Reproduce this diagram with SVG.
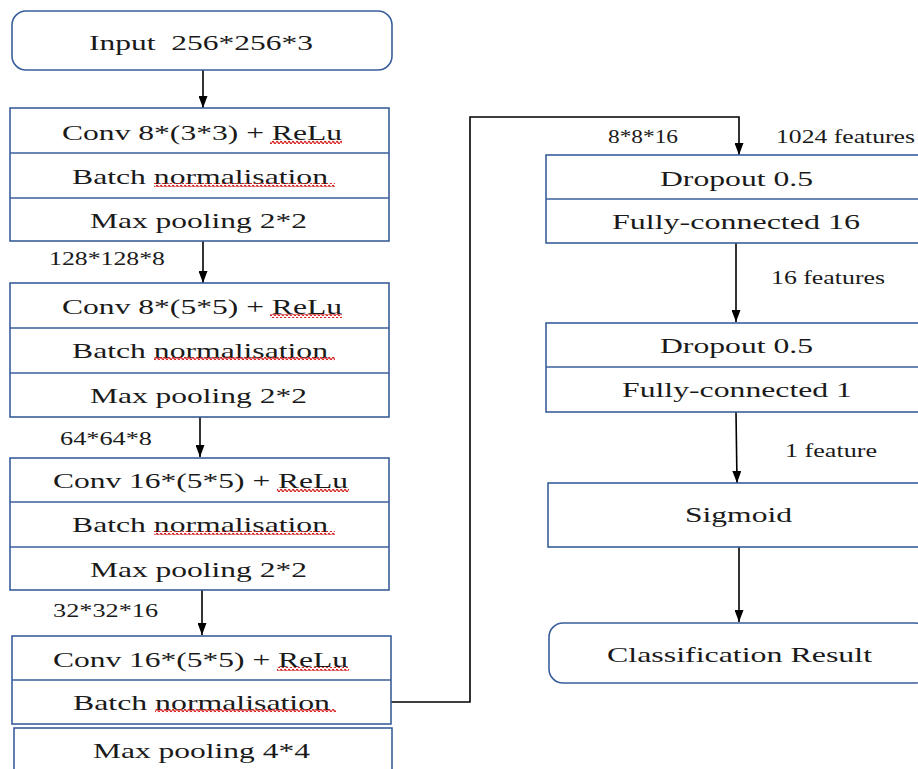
<svg xmlns="http://www.w3.org/2000/svg" width="918" height="769" viewBox="0 0 918 769">
<style>
.box{fill:#fff;stroke:#3a5e9c;stroke-width:1.6}
.div{stroke:#3a5e9c;stroke-width:1.4}
.t{font-family:'Liberation Serif','DejaVu Serif','Times New Roman',serif;font-size:22px;fill:#1a1a1a;white-space:pre}
.l{font-family:'Liberation Serif','DejaVu Serif','Times New Roman',serif;font-size:19px;fill:#1a1a1a}
.c{fill:none;stroke:#000;stroke-width:1.6}
.sq{fill:url(#wave)}
</style>
<defs>
<pattern id="wave" width="4" height="4" patternUnits="userSpaceOnUse">
<path d="M0 2.5 Q1 0.5 2 2.5 T4 2.5" fill="none" stroke="#d42020" stroke-width="1.3"/>
</pattern>
<marker id="ah" viewBox="0 0 12 9" refX="12" refY="4.5" markerWidth="12" markerHeight="9" markerUnits="userSpaceOnUse" orient="auto">
<path d="M0 0 L12 4.5 L0 9 Z" fill="#000"/>
</marker>
</defs>

<g id="connectors">
<line class="c" x1="203" y1="70" x2="203" y2="108" marker-end="url(#ah)"/>
<line class="c" x1="203" y1="241" x2="203" y2="283" marker-end="url(#ah)"/>
<line class="c" x1="200" y1="417" x2="200" y2="457" marker-end="url(#ah)"/>
<line class="c" x1="202" y1="590" x2="202" y2="635" marker-end="url(#ah)"/>
<polyline class="c" points="391,702 470,702 470,117 739,117 739,155" marker-end="url(#ah)"/>
<line class="c" x1="736" y1="243" x2="736" y2="322" marker-end="url(#ah)"/>
<line class="c" x1="736" y1="412" x2="737" y2="483" marker-end="url(#ah)"/>
<line class="c" x1="739" y1="547" x2="739" y2="622" marker-end="url(#ah)"/>
<text class="l" x="49" y="265" textLength="116" lengthAdjust="spacingAndGlyphs">128*128*8</text>
<text class="l" x="60" y="445" textLength="92" lengthAdjust="spacingAndGlyphs">64*64*8</text>
<text class="l" x="53" y="617" textLength="105" lengthAdjust="spacingAndGlyphs">32*32*16</text>
<text class="l" x="608" y="143" textLength="70" lengthAdjust="spacingAndGlyphs">8*8*16</text>
<text class="l" x="776" y="143" textLength="139" lengthAdjust="spacingAndGlyphs">1024 features</text>
<text class="l" x="771" y="284" textLength="114" lengthAdjust="spacingAndGlyphs">16 features</text>
<text class="l" x="785" y="457" textLength="92" lengthAdjust="spacingAndGlyphs">1 feature</text>
</g>

<g id="input">
<rect class="box" x="12" y="11" width="380" height="59" rx="14"/>
<text class="t" x="89" y="50" textLength="224" lengthAdjust="spacingAndGlyphs">Input  256*256*3</text>
</g>

<g id="block1">
<rect class="box" x="10" y="108" width="379" height="133"/>
<line class="div" x1="10" y1="153" x2="389" y2="153"/>
<line class="div" x1="10" y1="198" x2="389" y2="198"/>
<text class="t" x="62" y="140" textLength="280" lengthAdjust="spacingAndGlyphs">Conv 8*(3*3) + ReLu</text>
<rect class="sq" x="270" y="140" width="72" height="4"/>
<text class="t" x="72" y="184" textLength="256" lengthAdjust="spacingAndGlyphs">Batch normalisation</text>
<rect class="sq" x="154" y="183" width="181" height="4"/>
<text class="t" x="90" y="228" textLength="217" lengthAdjust="spacingAndGlyphs">Max pooling 2*2</text>
</g>

<g id="block2">
<rect class="box" x="10" y="283" width="379" height="134"/>
<line class="div" x1="10" y1="328" x2="389" y2="328"/>
<line class="div" x1="10" y1="373" x2="389" y2="373"/>
<text class="t" x="62" y="314" textLength="280" lengthAdjust="spacingAndGlyphs">Conv 8*(5*5) + ReLu</text>
<rect class="sq" x="270" y="314" width="72" height="4"/>
<text class="t" x="72" y="358" textLength="256" lengthAdjust="spacingAndGlyphs">Batch normalisation</text>
<rect class="sq" x="154" y="357" width="181" height="4"/>
<text class="t" x="90" y="403" textLength="217" lengthAdjust="spacingAndGlyphs">Max pooling 2*2</text>
</g>

<g id="block3">
<rect class="box" x="10" y="458" width="379" height="132"/>
<line class="div" x1="10" y1="502" x2="389" y2="502"/>
<line class="div" x1="10" y1="547" x2="389" y2="547"/>
<text class="t" x="53" y="488" textLength="295" lengthAdjust="spacingAndGlyphs">Conv 16*(5*5) + ReLu</text>
<rect class="sq" x="277" y="488" width="72" height="4"/>
<text class="t" x="72" y="532" textLength="256" lengthAdjust="spacingAndGlyphs">Batch normalisation</text>
<rect class="sq" x="154" y="531" width="181" height="4"/>
<text class="t" x="90" y="577" textLength="217" lengthAdjust="spacingAndGlyphs">Max pooling 2*2</text>
</g>

<g id="block4">
<rect class="box" x="12" y="636" width="379" height="88"/>
<line class="div" x1="12" y1="680" x2="391" y2="680"/>
<text class="t" x="53" y="667" textLength="295" lengthAdjust="spacingAndGlyphs">Conv 16*(5*5) + ReLu</text>
<rect class="sq" x="277" y="667" width="72" height="4"/>
<text class="t" x="73" y="710" textLength="257" lengthAdjust="spacingAndGlyphs">Batch normalisation</text>
<rect class="sq" x="155" y="709" width="181" height="4"/>
</g>

<g id="block5">
<rect class="box" x="14" y="728" width="378" height="50"/>
<text class="t" x="93" y="758" textLength="217" lengthAdjust="spacingAndGlyphs">Max pooling 4*4</text>
</g>

<g id="fc16">
<rect class="box" x="546" y="155" width="380" height="88"/>
<line class="div" x1="546" y1="199" x2="926" y2="199"/>
<text class="t" x="660" y="186" textLength="153" lengthAdjust="spacingAndGlyphs">Dropout 0.5</text>
<text class="t" x="612" y="229" textLength="248" lengthAdjust="spacingAndGlyphs">Fully-connected 16</text>
</g>

<g id="fc1">
<rect class="box" x="546" y="323" width="380" height="89"/>
<line class="div" x1="546" y1="367" x2="926" y2="367"/>
<text class="t" x="660" y="353" textLength="153" lengthAdjust="spacingAndGlyphs">Dropout 0.5</text>
<text class="t" x="622" y="397" textLength="230" lengthAdjust="spacingAndGlyphs">Fully-connected 1</text>
</g>

<g id="sigmoid">
<rect class="box" x="548" y="483" width="380" height="64"/>
<text class="t" x="685" y="522" textLength="107" lengthAdjust="spacingAndGlyphs">Sigmoid</text>
</g>

<g id="result">
<rect class="box" x="549" y="623" width="380" height="60" rx="14"/>
<text class="t" x="607" y="662" textLength="265" lengthAdjust="spacingAndGlyphs">Classification Result</text>
</g>
</svg>
